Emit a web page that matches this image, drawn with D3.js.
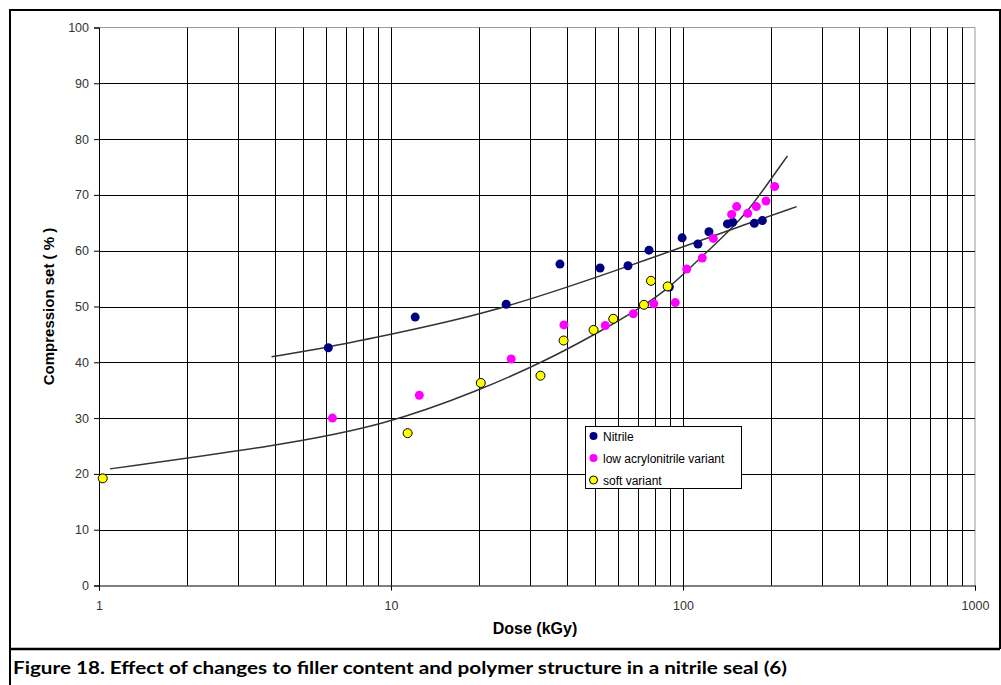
<!DOCTYPE html>
<html lang="en">
<head>
<meta charset="UTF-8">
<title>Compression set vs dose</title>
<style>
    body { margin: 0; background: #fff; }
    svg { display: block; }
    .tick text { font-family: "Liberation Sans", Arial, sans-serif; font-size: 12.5px; fill: #333; }
</style>
</head>
<body>
<svg width="1001" height="685"></svg>
<script src="https://d3js.org/d3.v7.min.js"></script>
<script>

// data (dose kGy, compression set %)
const nitrileDose  = [6.1, 12.1, 24.8, 37.9, 52.0, 64.8, 76.5, 89.8, 99.3, 112.5, 122.7, 142, 148, 175.5, 187];
const nitrileSet   = [42.6, 48.1, 50.4, 57.6, 56.9, 57.3, 60.1, 53.5, 62.3, 61.2, 63.4, 64.8, 65.1, 64.9, 65.4];

const lowAcnDose = [6.3, 12.5, 25.8, 39.1, 54.2, 67.6, 79.4, 94.1, 103, 116.4, 127, 146.8, 152.7, 166.6, 178.3, 192.4, 206];
const lowAcnSet  = [30.0, 34.1, 40.6, 46.7, 46.6, 48.7, 50.5, 50.7, 56.7, 58.7, 62.2, 66.5, 67.9, 66.7, 67.9, 68.9, 71.5];

const softDose = [1.03, 11.4, 20.3, 32.5, 39.0, 49.4, 57.7, 73.5, 77.7, 88.6];
const softSet  = [19.2, 27.3, 36.3, 37.6, 43.9, 45.8, 47.8, 50.3, 54.6, 53.6];

// trend lines
const trendUpperDose = [3.9, 6.1, 10, 20.3, 40, 64, 108, 161, 245];
const trendUpperSet  = [41.0, 42.7, 45.0, 48.5, 53.4, 57.1, 61.3, 64.6, 67.9];
const trendLowerDose = [1.09, 4.17, 9.5, 20.2, 34.2, 49.2, 73, 90.3, 108, 141, 166, 198, 228];
const trendLowerSet  = [20.9, 25.1, 28.7, 35.0, 40.4, 44.8, 50.0, 53.5, 57.4, 63.1, 66.9, 72.5, 77.0];

const xTickValues = [1, 10, 100, 1000];
const seriesNames = ["Nitrile", "low acrylonitrile variant", "soft variant"];
const caption = "Figure 18. Effect of changes to filler content and polymer structure in a nitrile seal (6)";

const svg = d3.select("svg");
const plotLeft = 99, plotRight = 975, plotTop = 27.5, plotBottom = 585.5;

const x = d3.scaleLog().domain([1, 1000]).range([plotLeft, plotRight]);
const y = d3.scaleLinear().domain([0, 100]).range([plotBottom, plotTop]);

// outer frame and caption divider
svg.append("path")
    .attr("d", "M10,685 V10 H1000 V649")
    .attr("fill", "none").attr("stroke", "#000").attr("stroke-width", 2);
svg.append("line")
    .attr("x1", 10).attr("x2", 1000).attr("y1", 649).attr("y2", 649)
    .attr("stroke", "#000").attr("stroke-width", 2.5);

// plot border (grey) top and right
svg.append("path")
    .attr("d", `M${plotLeft},${plotTop} H${plotRight} V${plotBottom}`)
    .attr("fill", "none").attr("stroke", "#999").attr("stroke-width", 1);

// grid
const grid = svg.append("g").attr("stroke", "#000").attr("stroke-width", 1);
grid.selectAll(".vg")
    .data(x.ticks().filter(d => d > 1 && d < 1000))
    .enter().append("line")
    .attr("x1", d => Math.round(x(d)) + 0.5).attr("x2", d => Math.round(x(d)) + 0.5)
    .attr("y1", plotTop).attr("y2", plotBottom);
grid.selectAll(".hg")
    .data(d3.range(10, 100, 10))
    .enter().append("line")
    .attr("x1", plotLeft).attr("x2", plotRight)
    .attr("y1", d => Math.round(y(d)) + 0.5).attr("y2", d => Math.round(y(d)) + 0.5);

// axes
const yAxis = svg.append("g")
    .attr("transform", `translate(${plotLeft},0)`)
    .call(d3.axisLeft(y).tickValues(d3.range(0, 101, 10)).tickSize(5).tickPadding(5));
const xAxis = svg.append("g")
    .attr("transform", `translate(0,${plotBottom})`)
    .call(d3.axisBottom(x).tickValues(xTickValues).tickFormat(d3.format("d")).tickSize(5).tickPadding(11));
[yAxis, xAxis].forEach(a => {
    a.select(".domain").attr("stroke", "#000");
    a.selectAll(".tick line").attr("stroke", "#000");
});

// axis titles
svg.append("text")
    .attr("transform", `translate(54,${(plotTop + plotBottom) / 2}) rotate(-90)`)
    .attr("text-anchor", "middle")
    .style("font", "bold 15px 'Liberation Sans', Arial, sans-serif")
    .text("Compression set ( % )");
svg.append("text")
    .attr("x", 535).attr("y", 634)
    .attr("text-anchor", "middle")
    .style("font", "bold 16px 'Liberation Sans', Arial, sans-serif")
    .text("Dose (kGy)");

// trend lines
const line = d3.line().x(d => x(d[0])).y(d => y(d[1])).curve(d3.curveBasis);
[[trendUpperDose, trendUpperSet], [trendLowerDose, trendLowerSet]].forEach(([xs, ys]) => {
    svg.append("path")
        .attr("d", line(d3.zip(xs, ys)))
        .attr("fill", "none").attr("stroke", "#333").attr("stroke-width", 1.5);
});

// points
const series = [
    { dose: nitrileDose, set: nitrileSet, fill: "#000080", stroke: "none" },
    { dose: lowAcnDose, set: lowAcnSet, fill: "#ff00ff", stroke: "none" },
    { dose: softDose, set: softSet, fill: "#ffff00", stroke: "#000" }
];
series.forEach(s => {
    svg.append("g").selectAll("circle")
        .data(d3.zip(s.dose, s.set))
        .enter().append("circle")
        .attr("cx", d => x(d[0])).attr("cy", d => y(d[1]))
        .attr("r", 4.5)
        .attr("fill", s.fill).attr("stroke", s.stroke).attr("stroke-width", 1);
});

// legend
const legend = svg.append("g").attr("transform", "translate(585,426)");
legend.append("rect")
    .attr("x", 0.5).attr("y", 0.5).attr("width", 156).attr("height", 62)
    .attr("fill", "#fff").attr("stroke", "#000").attr("stroke-width", 1);
seriesNames.forEach((name, i) => {
    const row = legend.append("g").attr("transform", `translate(0,${10 + i * 22})`);
    row.append("circle")
        .attr("cx", 8.5).attr("cy", 0).attr("r", 4)
        .attr("fill", series[i].fill).attr("stroke", series[i].stroke);
    row.append("text")
        .attr("x", 18).attr("y", 4.5)
        .style("font", "12px 'Liberation Sans', Arial, sans-serif")
        .text(name);
});

// caption
svg.append("text")
    .attr("x", 13).attr("y", 674)
    .attr("textLength", 774).attr("lengthAdjust", "spacingAndGlyphs")
    .style("font", "bold 16.5px Lato, sans-serif")
    .text(caption);

</script>
</body>
</html>
